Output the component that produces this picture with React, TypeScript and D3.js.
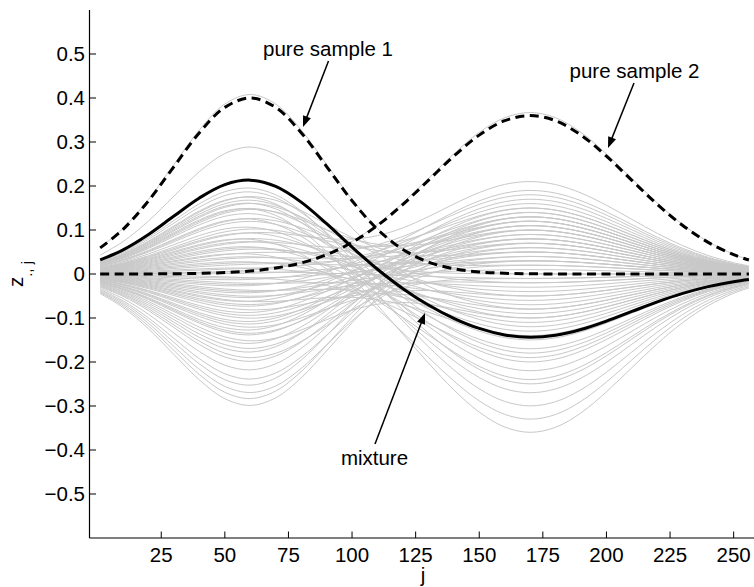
import React from "react";
import * as d3 from "d3";

// sample positions along j
const J_SAMPLES = [1, 10, 20, 30, 40, 50, 60, 70, 80, 90, 100, 110, 120, 130, 140, 150, 160, 170, 180, 190, 200, 210, 220, 230, 240, 250, 256];
// pure sample 1 and 2
const PURE1 = [0.0594, 0.1016, 0.1664, 0.2442, 0.3212, 0.3787, 0.4, 0.3787, 0.3212, 0.2442, 0.1664, 0.1016, 0.0556, 0.0273, 0.012, 0.0047, 0.0017, 0.0005, 0.0002, 0, 0, 0, 0, 0, 0, 0, 0];
const PURE2 = [0, 0.0001, 0.0002, 0.0006, 0.0014, 0.0032, 0.0067, 0.0135, 0.0251, 0.0439, 0.0719, 0.1103, 0.1583, 0.2128, 0.2678, 0.3156, 0.3484, 0.36, 0.3484, 0.3156, 0.2678, 0.2128, 0.1583, 0.1103, 0.0719, 0.0439, 0.0317];
// mixture: value at peak of sample 1 (j=60) and of sample 2 (j=170)
const MIX_AT_PEAK1 = 0.216;
const MIX_AT_PEAK2 = -0.144;
// grey curves: value at j=60 and at j=170
const GREY_AT_PEAK1 = [0.408, 0.002, 0.216, 0.29, 0.2, 0.19, 0.18, 0.175, 0.17, 0.165, 0.16, 0.155, 0.15, 0.145, 0.14, 0.13, 0.125, 0.12, 0.11, 0.1, 0.095, 0.09, 0.085, 0.08, 0.075, 0.07, 0.065, 0.06, 0.055, 0.05, 0.045, 0.04, 0.035, 0.03, 0.025, 0.02, 0.015, 0.01, 0.005, 0.0, -0.005, -0.01, -0.015, -0.02, -0.025, -0.03, -0.035, -0.04, -0.045, -0.05, -0.055, -0.06, -0.065, -0.07, -0.075, -0.08, -0.09, -0.095, -0.1, -0.11, -0.115, -0.12, -0.13, -0.135, -0.14, -0.15, -0.16, -0.17, -0.18, -0.19, -0.2, -0.22, -0.24, -0.255, -0.27, -0.285, -0.3];
const GREY_AT_PEAK2 = [0.0, 0.367, -0.144, -0.08, -0.25, -0.18, -0.3, 0.05, -0.12, -0.22, 0.02, -0.36, -0.05, 0.1, -0.15, -0.27, 0.07, -0.02, -0.2, 0.12, -0.1, 0.21, -0.33, 0.03, -0.07, 0.15, -0.17, 0.0, 0.08, -0.24, 0.18, -0.04, 0.11, -0.13, 0.05, 0.13, -0.09, 0.16, -0.01, 0.09, -0.19, 0.04, 0.14, -0.06, 0.06, 0.19, -0.11, 0.01, 0.12, -0.03, 0.08, -0.14, 0.17, 0.03, 0.1, -0.08, 0.13, 0.05, -0.02, 0.11, 0.07, -0.05, 0.15, 0.02, 0.09, -0.1, 0.12, 0.04, 0.14, -0.01, 0.08, 0.11, 0.06, 0.13, 0.03, 0.1, 0.07];
const X_TICKS = [25, 50, 75, 100, 125, 150, 175, 200, 225, 250];
const Y_TICKS = [-0.5, -0.4, -0.3, -0.2, -0.1, 0, 0.1, 0.2, 0.3, 0.4, 0.5];

const W = 754;
const H = 587;
const FONT = "'Liberation Sans', Arial, Helvetica, sans-serif";
const FS = 20.5;

const x = d3.scaleLinear().domain([-3.2, 258]).range([89.5, 754]);
const y = d3.scaleLinear().domain([-0.6, 0.6]).range([538, 10]);

const PEAK1 = d3.max(PURE1) as number;
const PEAK2 = d3.max(PURE2) as number;

function combo(a: number, b: number): [number, number][] {
  return J_SAMPLES.map((j, i) => [j, (a / PEAK1) * PURE1[i] + (b / PEAK2) * PURE2[i]]);
}

const line = d3
  .line<[number, number]>()
  .x((d) => x(d[0]))
  .y((d) => y(d[1]))
  .curve(d3.curveCatmullRom.alpha(0.5));

function Arrow({ x1, y1, x2, y2 }: { x1: number; y1: number; x2: number; y2: number }) {
  const dx = x2 - x1;
  const dy = y2 - y1;
  const len = Math.hypot(dx, dy);
  const ux = dx / len;
  const uy = dy / len;
  const hl = 11;
  const hw = 4.2;
  const bx = x2 - ux * hl;
  const by = y2 - uy * hl;
  const p = `${x2},${y2} ${bx - uy * hw},${by + ux * hw} ${bx + uy * hw},${by - ux * hw}`;
  return (
    <g>
      <line x1={x1} y1={y1} x2={bx + ux * 2} y2={by + uy * 2} stroke="#000" strokeWidth={1.5} />
      <polygon points={p} fill="#000" />
    </g>
  );
}

export default function App() {
  const fmt = (d: number) => (d < 0 ? "\u2212" + Math.abs(d) : String(d));
  return (
    <svg width={W} height={H} style={{ position: "absolute", left: 0, top: 0, background: "#fff" }} fontFamily={FONT}>
      <rect width={W} height={H} fill="#fff" />
      <g>
        {GREY_AT_PEAK1.map((a, i) => (
          <path key={i} d={line(combo(a, GREY_AT_PEAK2[i])) || ""} fill="none" stroke="#c8c8c8" strokeWidth={1} />
        ))}
      </g>
      <path d={line(combo(MIX_AT_PEAK1, MIX_AT_PEAK2)) || ""} fill="none" stroke="#000" strokeWidth={3} />
      <path d={line(J_SAMPLES.map((j, i) => [j, PURE1[i]] as [number, number])) || ""} fill="none" stroke="#000" strokeWidth={3} strokeDasharray="9 5.5" />
      <path d={line(J_SAMPLES.map((j, i) => [j, PURE2[i]] as [number, number])) || ""} fill="none" stroke="#000" strokeWidth={3} strokeDasharray="9 5.5" />

      {/* axes */}
      <line x1={89.5} y1={10} x2={89.5} y2={538} stroke="#000" strokeWidth={1.2} />
      <line x1={89.5} y1={538} x2={754} y2={538} stroke="#000" strokeWidth={1.2} />
      {Y_TICKS.map((t) => (
        <g key={t}>
          <line x1={89.5} x2={96} y1={y(t)} y2={y(t)} stroke="#000" strokeWidth={1} />
          <text x={85} y={y(t)} dy="0.36em" textAnchor="end" fontSize={FS} fill="#000">
            {fmt(t)}
          </text>
        </g>
      ))}
      {X_TICKS.map((t) => (
        <g key={t}>
          <line x1={x(t)} x2={x(t)} y1={538} y2={531.5} stroke="#000" strokeWidth={1} />
          <text x={x(t)} y={562} textAnchor="middle" fontSize={FS} fill="#000">
            {t}
          </text>
        </g>
      ))}
      <text x={423} y={582} textAnchor="middle" fontSize={FS} fill="#000">
        j
      </text>
      <text transform="translate(23,274) rotate(-90)" textAnchor="middle" fontSize={FS} fill="#000">
        z
        <tspan fontSize={15} dy={9}>
          ., j
        </tspan>
      </text>

      {/* annotations */}
      <text x={328} y={56} textAnchor="middle" fontSize={FS} fill="#000">
        pure sample 1
      </text>
      <Arrow x1={328.5} y1={61} x2={303} y2={127} />
      <text x={634.5} y={78} textAnchor="middle" fontSize={FS} fill="#000">
        pure sample 2
      </text>
      <Arrow x1={634} y1={83} x2={608} y2={148} />
      <text x={374.5} y={465} textAnchor="middle" fontSize={FS} fill="#000">
        mixture
      </text>
      <Arrow x1={375} y1={444} x2={425} y2={313} />
    </svg>
  );
}
